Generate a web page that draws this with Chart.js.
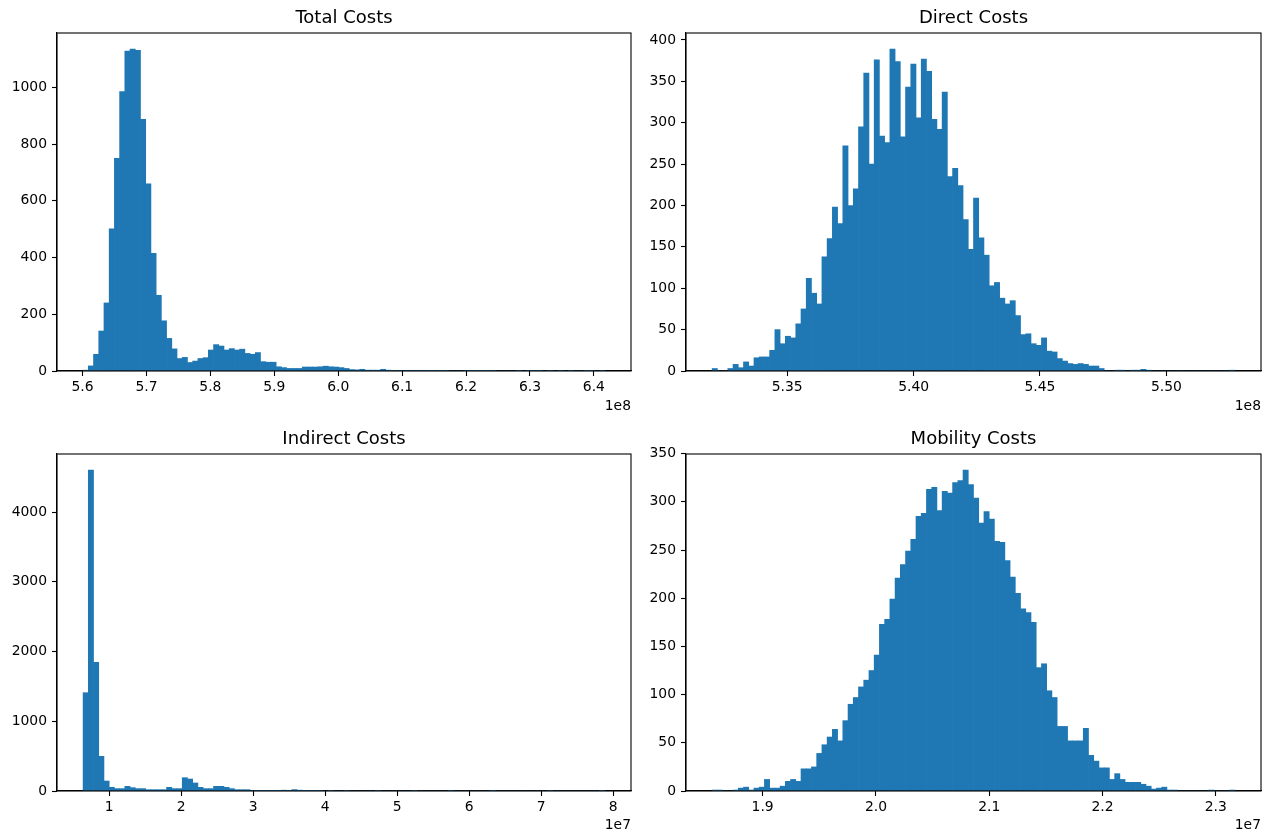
<!DOCTYPE html>
<html>
<head>
<meta charset="utf-8">
<script src="https://cdn.jsdelivr.net/npm/chart.js@4.4.1/dist/chart.umd.min.js"></script>
<style>
  body { margin: 0; background: #fff; width: 1266px; height: 834px; position: relative; overflow: hidden; }
  canvas { position: absolute; }
</style>
</head>
<body>
<canvas id="totalChart" width="640" height="420" style="left:0;top:0"></canvas>
<canvas id="directChart" width="626" height="420" style="left:640px;top:0"></canvas>
<canvas id="indirectChart" width="640" height="414" style="left:0;top:420px"></canvas>
<canvas id="mobilityChart" width="626" height="414" style="left:640px;top:420px"></canvas>
<script>
// Histogram counts, 100 bins each
const totalCounts = [
  3, 18, 59, 141, 240, 501, 750, 985, 1128, 1135,
  1131, 887, 660, 415, 267, 177, 115, 78, 44, 48,
  30, 35, 44, 47, 74, 93, 88, 74, 79, 74,
  77, 62, 59, 65, 33, 31, 31, 15, 12, 9,
  9, 9, 14, 14, 14, 15, 17, 15, 14, 12,
  9, 5, 4, 6, 3, 3, 3, 6, 3, 2,
  2, 2, 2, 2, 2, 2, 1, 2, 1, 1,
  0, 0, 0, 1, 1, 1, 1, 1, 1, 0,
  0, 0, 0, 1, 0, 1, 1, 1, 0, 1,
  0, 1, 0, 1, 0, 0, 1, 1, 0, 1
];
const directCounts = [
  3, 0, 0, 3, 8, 4, 11, 6, 16, 17,
  17, 25, 50, 33, 42, 40, 57, 75, 112, 94,
  81, 138, 160, 198, 178, 272, 200, 220, 295, 360,
  250, 376, 284, 276, 389, 374, 283, 343, 371, 306,
  377, 362, 304, 292, 337, 235, 245, 224, 183, 147,
  209, 161, 140, 103, 107, 88, 81, 85, 67, 44,
  45, 33, 31, 40, 24, 23, 15, 12, 9, 8,
  9, 8, 6, 6, 3, 0, 0, 1, 1, 0,
  1, 1, 2, 1, 0, 0, 0, 0, 0, 0,
  0, 0, 0, 0, 0, 0, 0, 0, 0, 1
];
const indirectCounts = [
  1410, 4604, 1844, 497, 143, 53, 34, 34, 67, 48,
  34, 34, 19, 19, 19, 19, 53, 34, 34, 191,
  172, 115, 53, 34, 34, 67, 67, 53, 34, 19,
  19, 19, 8, 3, 2, 1, 2, 3, 12, 5,
  20, 12, 10, 10, 2, 1, 0, 1, 0, 0,
  1, 0, 0, 0, 0, 0, 1, 0, 0, 0,
  0, 0, 0, 1, 0, 0, 0, 0, 0, 0,
  1, 0, 0, 0, 0, 0, 0, 0, 1, 0,
  0, 0, 0, 0, 0, 0, 0, 0, 0, 1,
  0, 0, 0, 0, 0, 0, 0, 0, 0, 1
];
const mobilityCounts = [
  1, 1, 0, 0, 1, 3, 4, 1, 3, 4,
  12, 3, 3, 5, 10, 12, 10, 23, 23, 25,
  39, 48, 56, 64, 52, 73, 90, 97, 108, 115,
  125, 141, 173, 178, 199, 221, 235, 249, 261, 285,
  288, 313, 315, 291, 311, 309, 320, 322, 333, 318,
  304, 278, 290, 282, 259, 258, 239, 222, 205, 189,
  185, 175, 128, 132, 104, 97, 67, 67, 52, 52,
  52, 65, 37, 31, 24, 24, 12, 18, 12, 9,
  9, 9, 7, 5, 2, 3, 4, 1, 1, 0,
  0, 0, 0, 0, 0, 1, 0, 0, 0, 1
];

// Bin ranges (lowest edge, highest edge), in units of the axis offset
const totalRange = [5.6008, 6.4172];
const directRange = [5.3203, 5.5271];
const indirectRange = [0.637, 7.884];
const mobilityRange = [1.8554, 2.3168];

// Tick positions
const totalXTicks = [5.6, 5.7, 5.8, 5.9, 6.0, 6.1, 6.2, 6.3, 6.4];
const totalYTicks = [0, 200, 400, 600, 800, 1000];
const directXTicks = [5.35, 5.40, 5.45, 5.50];
const directYTicks = [0, 50, 100, 150, 200, 250, 300, 350, 400];
const indirectXTicks = [1, 2, 3, 4, 5, 6, 7, 8];
const indirectYTicks = [0, 1000, 2000, 3000, 4000];
const mobilityXTicks = [1.9, 2.0, 2.1, 2.2, 2.3];
const mobilityYTicks = [0, 50, 100, 150, 200, 250, 300, 350];

const BAR_COLOR = '#1f77b4';
const FONT = 'DejaVu Sans';

// draws the top and right spines too
const framePlugin = {
  id: 'frame',
  afterDraw(chart) {
    const { ctx, chartArea: a } = chart;
    ctx.save();
    ctx.strokeStyle = '#000';
    ctx.lineWidth = 1.1;
    ctx.strokeRect(a.left, a.top, a.right - a.left, a.bottom - a.top);
    ctx.restore();
  }
};

function makeHist(id, o) {
  const [lo, hi] = o.range;
  const w = (hi - lo) / o.counts.length;
  const span = hi - lo;
  const points = o.counts.map((c, i) => ({ x: lo + (i + 0.5) * w, y: c }));
  const yMax = Math.max(...o.counts) * 1.05;

  return new Chart(document.getElementById(id).getContext('2d'), {
    type: 'bar',
    data: {
      datasets: [{
        data: points,
        backgroundColor: BAR_COLOR,
        borderWidth: 0,
        barPercentage: 1,
        categoryPercentage: 1
      }]
    },
    options: {
      responsive: false,
      animation: false,
      events: [],
      layout: { padding: { left: 0, right: o.padRight, top: 0, bottom: o.padBottom } },
      plugins: {
        legend: { display: false },
        tooltip: { enabled: false },
        title: {
          display: true,
          text: o.title,
          fullSize: false,
          color: '#000',
          font: { family: FONT, size: 18, weight: 'normal' },
          padding: { top: o.titleTop, bottom: 3.4 }
        }
      },
      scales: {
        x: {
          type: 'linear',
          offset: false,
          min: lo - 0.05 * span,
          max: hi + 0.05 * span,
          afterBuildTicks: s => { s.ticks = o.xTicks.map(v => ({ value: v })); },
          afterFit: s => { s.height = o.xHeight; },
          grid: { offset: false, drawOnChartArea: false, tickLength: 5, tickColor: '#000', tickWidth: 1.1 },
          border: { color: '#000', width: 1.1 },
          ticks: {
            color: '#000', padding: 3, maxRotation: 0, autoSkip: false,
            font: { family: FONT, size: 13.9 },
            callback: v => v.toFixed(o.xDecimals)
          },
          title: {
            display: true, text: o.offsetText, align: 'end', color: '#000',
            padding: 0, font: { family: FONT, size: 13.9 }
          }
        },
        y: {
          min: 0,
          max: yMax,
          afterBuildTicks: s => { s.ticks = o.yTicks.map(v => ({ value: v })); },
          afterFit: s => { s.width = o.yWidth; },
          grid: { drawOnChartArea: false, tickLength: 5, tickColor: '#000', tickWidth: 1.1 },
          border: { color: '#000', width: 1.1 },
          ticks: {
            color: '#000', padding: 5, autoSkip: false,
            font: { family: FONT, size: 13.9 },
            callback: v => String(v)
          }
        }
      }
    },
    plugins: [framePlugin]
  });
}

makeHist('totalChart', {
  title: 'Total Costs', counts: totalCounts, range: totalRange,
  xTicks: totalXTicks, yTicks: totalYTicks, xDecimals: 1, offsetText: '1e8',
  yWidth: 57, padRight: 9, xHeight: 44, padBottom: 5, titleTop: 8
});
makeHist('directChart', {
  title: 'Direct Costs', counts: directCounts, range: directRange,
  xTicks: directXTicks, yTicks: directYTicks, xDecimals: 2, offsetText: '1e8',
  yWidth: 46, padRight: 5, xHeight: 44, padBottom: 5, titleTop: 8
});
makeHist('indirectChart', {
  title: 'Indirect Costs', counts: indirectCounts, range: indirectRange,
  xTicks: indirectXTicks, yTicks: indirectYTicks, xDecimals: 0, offsetText: '1e7',
  yWidth: 57, padRight: 9, xHeight: 43, padBottom: 0, titleTop: 9
});
makeHist('mobilityChart', {
  title: 'Mobility Costs', counts: mobilityCounts, range: mobilityRange,
  xTicks: mobilityXTicks, yTicks: mobilityYTicks, xDecimals: 1, offsetText: '1e7',
  yWidth: 46, padRight: 5, xHeight: 43, padBottom: 0, titleTop: 9
});
</script>
</body>
</html>
